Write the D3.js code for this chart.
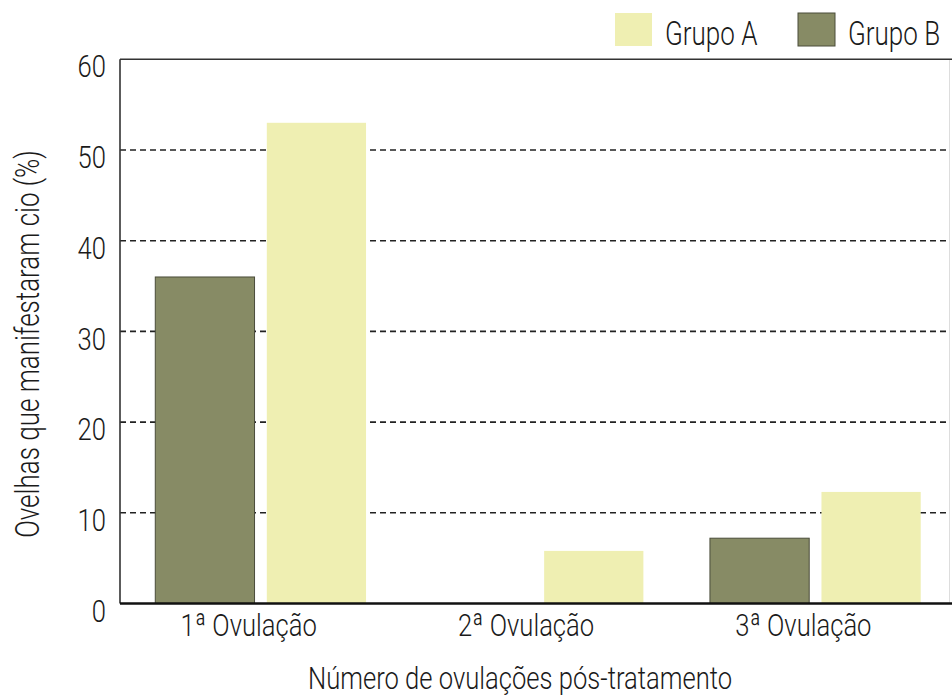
<!doctype html>
<html>
  <head>
    <meta charset="utf-8">
    <title>Ovelhas que manifestaram cio</title>
    <style>
      body { margin: 0; background: #fff; }
      svg { display: block; }
      text { font-family: "Roboto", "Liberation Sans", sans-serif; font-weight: 300; fill: #1a1a1a; }
      .axis path, .axis line { display: none; }
    </style>
  </head>
  <body>
    <div id="chart"></div>

    <script src="https://d3js.org/d3.v7.min.js"></script>
    <script>
      // values (%)
      const categories = ['1ª Ovulação', '2ª Ovulação', '3ª Ovulação'];
      const groups = ['Grupo B', 'Grupo A'];
      const grupoA = [53, 5.8, 12.3];
      const grupoB = [36, 0, 7.2];
      const yTicks = [0, 10, 20, 30, 40, 50, 60];
      const legendItems = ['Grupo A', 'Grupo B'];

      const width = 952, height = 697;
      const plotLeft = 120, plotRight = 952, plotTop = 59.3, plotBottom = 603.5;
      const condense = 0.8; // the original uses a condensed face

      const color = d3.scaleOrdinal(groups, ['#878b65', '#efefb2']);

      const svg = d3.select('#chart')
        .append('svg')
        .attr('width', width)
        .attr('height', height);

      const y = d3.scaleLinear([0, 60], [plotBottom, plotTop]);

      const x0 = d3.scaleBand(categories, [122, 954])
        .paddingInner(0.24)
        .paddingOuter(0.12);

      const x1 = d3.scaleBand(groups, [0, x0.bandwidth()])
        .paddingInner(0.11);

      // dashed grid lines
      svg.append('g')
        .selectAll('line')
        .data(yTicks.filter(d => d > 0 && d < 60))
        .join('line')
        .attr('x1', plotLeft)
        .attr('x2', 950)
        .attr('y1', d => y(d))
        .attr('y2', d => y(d))
        .attr('stroke', '#222')
        .attr('stroke-width', 1.6)
        .attr('stroke-dasharray', '6 4');

      // faint right edge
      svg.append('line')
        .attr('x1', 949.5).attr('x2', 949.5)
        .attr('y1', y(60)).attr('y2', y(0))
        .attr('stroke', '#ddd')
        .attr('stroke-width', 1);

      // bars
      const rows = categories.map((c, i) => ({cat: c, values: [
        {group: 'Grupo B', value: grupoB[i]},
        {group: 'Grupo A', value: grupoA[i]}
      ]}));

      svg.append('g')
        .selectAll('g')
        .data(rows)
        .join('g')
        .attr('transform', d => `translate(${x0(d.cat)},0)`)
        .selectAll('rect')
        .data(d => d.values.filter(v => v.value > 0))
        .join('rect')
        .attr('x', d => x1(d.group))
        .attr('width', x1.bandwidth())
        .attr('y', d => y(d.value))
        .attr('height', d => y(0) - y(d.value))
        .attr('fill', d => color(d.group))
        .attr('stroke', d => d.group === 'Grupo B' ? '#4a4c3a' : 'none')
        .attr('stroke-width', 1);

      // frame: top, left, bottom
      svg.append('line')
        .attr('x1', plotLeft).attr('x2', plotRight)
        .attr('y1', y(60)).attr('y2', y(60))
        .attr('stroke', '#333').attr('stroke-width', 1.6);
      svg.append('line')
        .attr('x1', plotLeft).attr('x2', plotLeft)
        .attr('y1', y(60)).attr('y2', y(0))
        .attr('stroke', '#333').attr('stroke-width', 1.6);
      svg.append('line')
        .attr('x1', plotLeft).attr('x2', plotRight)
        .attr('y1', y(0)).attr('y2', y(0))
        .attr('stroke', '#111').attr('stroke-width', 2.4);

      // y axis labels
      svg.append('g')
        .attr('class', 'axis')
        .attr('transform', `translate(${plotLeft},0)`)
        .call(d3.axisLeft(y).tickValues(yTicks).tickSize(0).tickPadding(14))
        .call(g => g.selectAll('text')
          .attr('font-size', 32)
          .attr('dy', '0.55em')
          .style('font-family', null));

      // x axis labels
      svg.append('g')
        .attr('class', 'axis')
        .attr('transform', `translate(-12,${plotBottom})`)
        .call(d3.axisBottom(x0).tickSize(0).tickPadding(10))
        .call(g => g.selectAll('text')
          .attr('font-size', 32)
          .style('font-family', null));

      // axis titles
      svg.append('text')
        .attr('x', 520)
        .attr('y', 689)
        .attr('text-anchor', 'middle')
        .attr('font-size', 32)
        .text('Número de ovulações pós-tratamento');

      svg.append('text')
        .attr('transform', 'translate(39,344) rotate(-90)')
        .attr('text-anchor', 'middle')
        .attr('font-size', 32.5)
        .text('Ovelhas que manifestaram cio (%)');

      // squeeze every label horizontally
      svg.selectAll('text').each(function () {
        const w = this.getComputedTextLength();
        this.setAttribute('textLength', w * condense);
        this.setAttribute('lengthAdjust', 'spacingAndGlyphs');
      });

      // legend (squeezed with a transform so its box stays inside the page)
      const legend = svg.append('g')
        .selectAll('g')
        .data(legendItems)
        .join('g')
        .attr('transform', (d, i) => `translate(${615 + i * 183},13)`);

      legend.append('rect')
        .attr('width', 37)
        .attr('height', 33)
        .attr('fill', d => color(d))
        .attr('stroke', d => d === 'Grupo B' ? '#4a4c3a' : 'none');

      legend.append('text')
        .attr('transform', `translate(50,32) scale(${condense},1)`)
        .attr('font-size', 32.5)
        .text(d => d);
    </script>
  </body>
</html>
